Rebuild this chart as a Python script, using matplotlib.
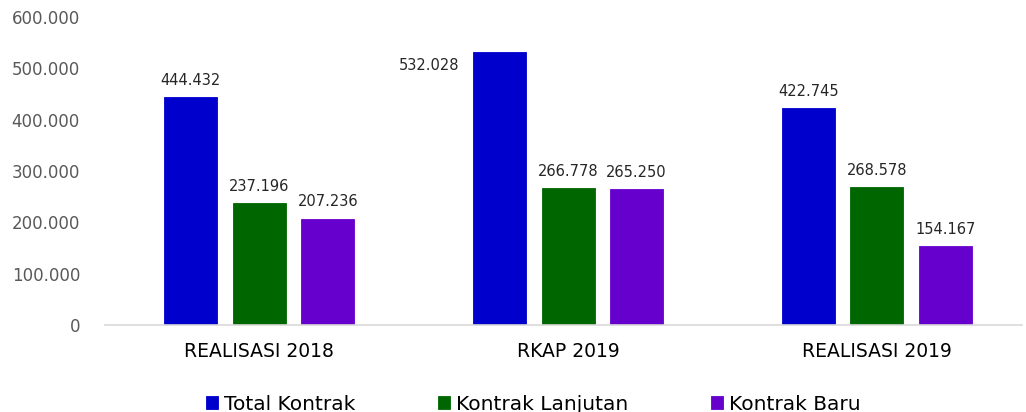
import matplotlib.pyplot as plt
import matplotlib.ticker as ticker
import numpy as np

kategori = ["REALISASI 2018", "RKAP 2019", "REALISASI 2019"]
total_kontrak = [444432, 532028, 422745]
kontrak_lanjutan = [237196, 266778, 268578]
kontrak_baru = [207236, 265250, 154167]
seri = ["Total Kontrak", "Kontrak Lanjutan", "Kontrak Baru"]
warna = ["#0000CC", "#006600", "#6600CC"]


def titik(v):
    return f"{v:,.0f}".replace(",", ".")


fig = plt.figure(figsize=(10.26, 4.12), dpi=100)
ax = fig.add_axes([105 / 1026, 1 - 325 / 412, 917 / 1026, 308 / 412])

x = np.arange(len(kategori))
lebar = 0.172
geser = 0.222
data = [total_kontrak, kontrak_lanjutan, kontrak_baru]

for i, (nilai, nama, w) in enumerate(zip(data, seri, warna)):
    pos = x + (i - 1) * geser
    ax.bar(pos, nilai, lebar, color=w, label=nama, edgecolor=w, linewidth=0.6)
    for px, v in zip(pos, nilai):
        if v == max(total_kontrak):
            # label RKAP 2019 digeser ke kiri seperti di gambar asli
            ax.annotate(titik(v), (px, v), xytext=(-51, -10), textcoords="offset points",
                        ha="center", va="center", fontsize=10.5, color="#262626")
        else:
            ax.annotate(titik(v), (px, v), xytext=(0, 12), textcoords="offset points",
                        ha="center", va="center", fontsize=10.5, color="#262626")

ax.set_ylim(0, 600000)
ax.set_xlim(-0.5, 2.47)
ax.yaxis.set_major_locator(ticker.MultipleLocator(100000))
ax.yaxis.set_major_formatter(ticker.FuncFormatter(lambda v, p: titik(v)))
ax.set_xticks(x)
ax.set_xticklabels(kategori)
ax.tick_params(axis="y", length=0, pad=18, labelsize=12, labelcolor="#595959")
ax.tick_params(axis="x", length=0, pad=12, labelsize=13.5, labelcolor="#000000")
for s in ["top", "right", "left"]:
    ax.spines[s].set_visible(False)
ax.spines["bottom"].set_color("#D9D9D9")
ax.spines["bottom"].set_linewidth(1.2)

fig.legend(loc="center", bbox_to_anchor=(0.52, 1 - 404 / 412), ncol=3, frameon=False,
           fontsize=14.5, handlelength=0.6, handleheight=0.6, handletextpad=0.3,
           columnspacing=4.1)

plt.savefig("out.png", dpi=100)
